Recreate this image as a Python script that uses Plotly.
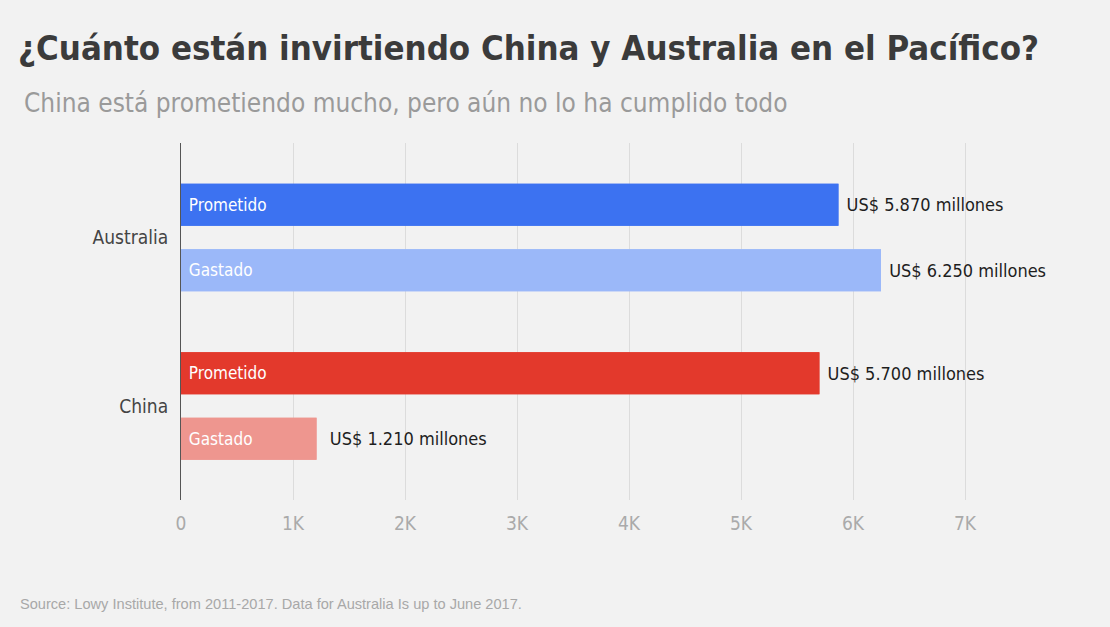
import plotly.graph_objects as go

countries = ["Australia", "China"]
prometido = [5870, 5700]
gastado = [6250, 1210]
prometido_labels = [" US$ 5.870 millones", " US$ 5.700 millones"]
gastado_labels = [" US$ 6.250 millones", "  US$ 1.210 millones"]
prometido_colors = ["#3c72f1", "#e3392c"]
gastado_colors = ["#9bb8f9", "#ee968f"]
tick_vals = [0, 1000, 2000, 3000, 4000, 5000, 6000, 7000]
tick_text = ["0", "1K", "2K", "3K", "4K", "5K", "6K", "7K"]

COND = "DejaVu Sans Condensed, Liberation Sans Narrow, Roboto, sans-serif"

fig = go.Figure()
# value labels (outside)
fig.add_trace(go.Bar(
    y=countries, x=prometido, orientation="h", offsetgroup="p",
    marker=dict(color=prometido_colors, line=dict(width=0)),
    text=prometido_labels, textposition="outside", cliponaxis=False,
    constraintext="none",
    outsidetextfont=dict(family=COND, size=18, color="#1e1e1e"),
    hoverinfo="skip", showlegend=False))
fig.add_trace(go.Bar(
    y=countries, x=gastado, orientation="h", offsetgroup="g",
    marker=dict(color=gastado_colors, line=dict(width=0)),
    text=gastado_labels, textposition="outside", cliponaxis=False,
    constraintext="none",
    outsidetextfont=dict(family=COND, size=18, color="#1e1e1e"),
    hoverinfo="skip", showlegend=False))
# inside labels
fig.add_trace(go.Bar(
    y=countries, x=prometido, orientation="h", offsetgroup="p",
    marker=dict(color=prometido_colors, line=dict(width=0)),
    text=[" Prometido"] * 2, textposition="inside", insidetextanchor="start",
    constraintext="none",
    insidetextfont=dict(family=COND, size=17, color="white"),
    hoverinfo="skip", showlegend=False))
fig.add_trace(go.Bar(
    y=countries, x=gastado, orientation="h", offsetgroup="g",
    marker=dict(color=gastado_colors, line=dict(width=0)),
    text=[" Gastado"] * 2, textposition="inside", insidetextanchor="start",
    constraintext="none",
    insidetextfont=dict(family=COND, size=17, color="white"),
    hoverinfo="skip", showlegend=False))

fig.update_layout(
    width=1110, height=627,
    paper_bgcolor="#f2f2f2", plot_bgcolor="#f2f2f2",
    margin=dict(l=181, r=110, t=143, b=127),
    barmode="group", bargap=0.222, bargroupgap=0.36,
    title=dict(text="<b>¿Cuánto están invirtiendo China y Australia en el Pacífico?</b>",
               x=18/1110, xanchor="left", xref="container",
               y=1-48/627, yanchor="middle", yref="container",
               font=dict(family=COND, size=34.5, color="#3b3b3b")),
    annotations=[
        dict(text="China está prometiendo mucho, pero aún no lo ha cumplido todo",
             xref="paper", yref="paper", x=(22-181)/819, y=(500-103)/357,
             xanchor="left", yanchor="middle", showarrow=False,
             font=dict(family=COND, size=26, color="#9a9a9a")),
        dict(text="Source: Lowy Institute, from 2011-2017. Data for Australia Is up to June 2017.",
             xref="paper", yref="paper", x=(18-181)/819, y=(500-604)/357,
             xanchor="left", yanchor="middle", showarrow=False,
             font=dict(family="Liberation Sans, Arial, sans-serif", size=14.6, color="#a8a8a8")),
    ],
    xaxis=dict(range=[0, 819/0.112], tickvals=tick_vals, ticktext=tick_text,
               showgrid=True, gridcolor="#dcdcdc", gridwidth=1, zeroline=False,
               ticks="outside", ticklen=6, tickcolor="#f2f2f2",
               tickfont=dict(family=COND, size=19, color="#aaaaaa"),
               showline=False, fixedrange=True),
    yaxis=dict(range=[1.558, -0.561], showgrid=False, zeroline=False,
               showline=True, linecolor="#555555", linewidth=1,
               ticks="outside", ticklen=8, tickcolor="#f2f2f2",
               tickfont=dict(family=COND, size=19, color="#444444"),
               fixedrange=True),
)

fig.write_html("out.html", config={"displayModeBar": False},
               post_script="document.body.style.margin='0';document.body.style.background='#f2f2f2';")
